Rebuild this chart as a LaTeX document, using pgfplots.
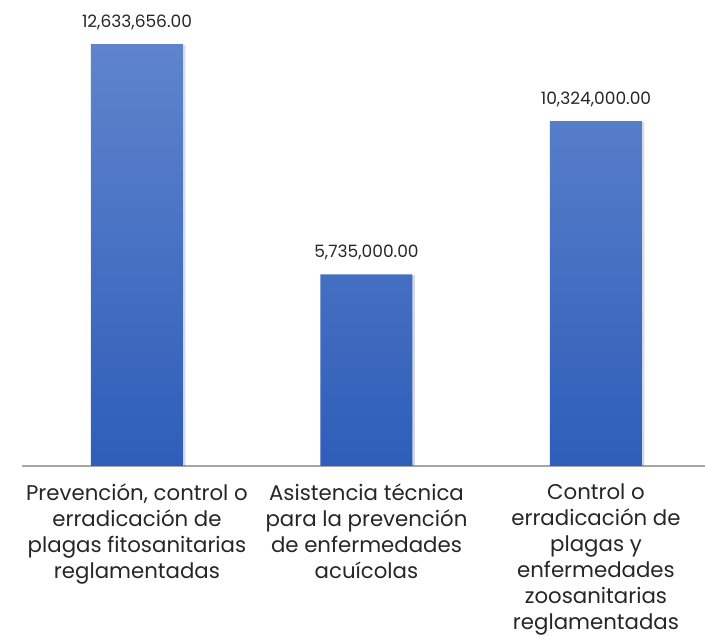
\documentclass[border=0pt]{standalone}
\usepackage{fontspec}
\setmainfont{Poppins}
\usepackage{pgfplots}
\pgfplotsset{compat=1.18}
\definecolor{bartop}{HTML}{5F84CC}
\definecolor{barbot}{HTML}{2E5EB9}
\definecolor{axisgray}{HTML}{A6A6A6}
\definecolor{txt}{HTML}{262626}
\begin{document}
\begin{tikzpicture}
\useasboundingbox (0,0) rectangle (705pt,637pt);
\begin{axis}[
  at={(22pt,171pt)}, anchor=south west,
  width=683pt, height=456pt, scale only axis,
  xmin=-0.501, xmax=2.475,
  ymin=0, ymax=13652000,
  axis y line=none,
  axis x line*=bottom,
  x axis line style={draw=axisgray, line width=1.3pt, -},
  xtick={0,1,2},
  xticklabels={{Prevención, control o\\erradicación de\\plagas fitosanitarias\\reglamentadas},
               {Asistencia técnica\\para la prevención\\de enfermedades\\acuícolas},
               {Control o\\erradicación de\\plagas y\\enfermedades\\zoosanitarias\\reglamentadas}},
  xticklabel style={align=center, font=\fontsize{21.3}{26}\selectfont, text=txt, yshift=-14pt},
  major tick length=0pt,
  ybar, bar width=92pt,
  nodes near coords,
  nodes near coords style={font=\fontsize{17}{20}\selectfont, text=txt, yshift=11pt,
    /pgf/number format/.cd, fixed, fixed zerofill, precision=2, 1000 sep={,}, assume math mode=true},
  scaled y ticks=false,
]
\addplot[draw=none, top color=bartop, bottom color=barbot,
  preaction={fill=black, fill opacity=0.10, draw=none, transform canvas={xshift=2.5pt, yshift=-1pt}}]
  coordinates {(0,12633656) (1,5735000) (2,10324000)};
\end{axis}
\end{tikzpicture}
\end{document}
